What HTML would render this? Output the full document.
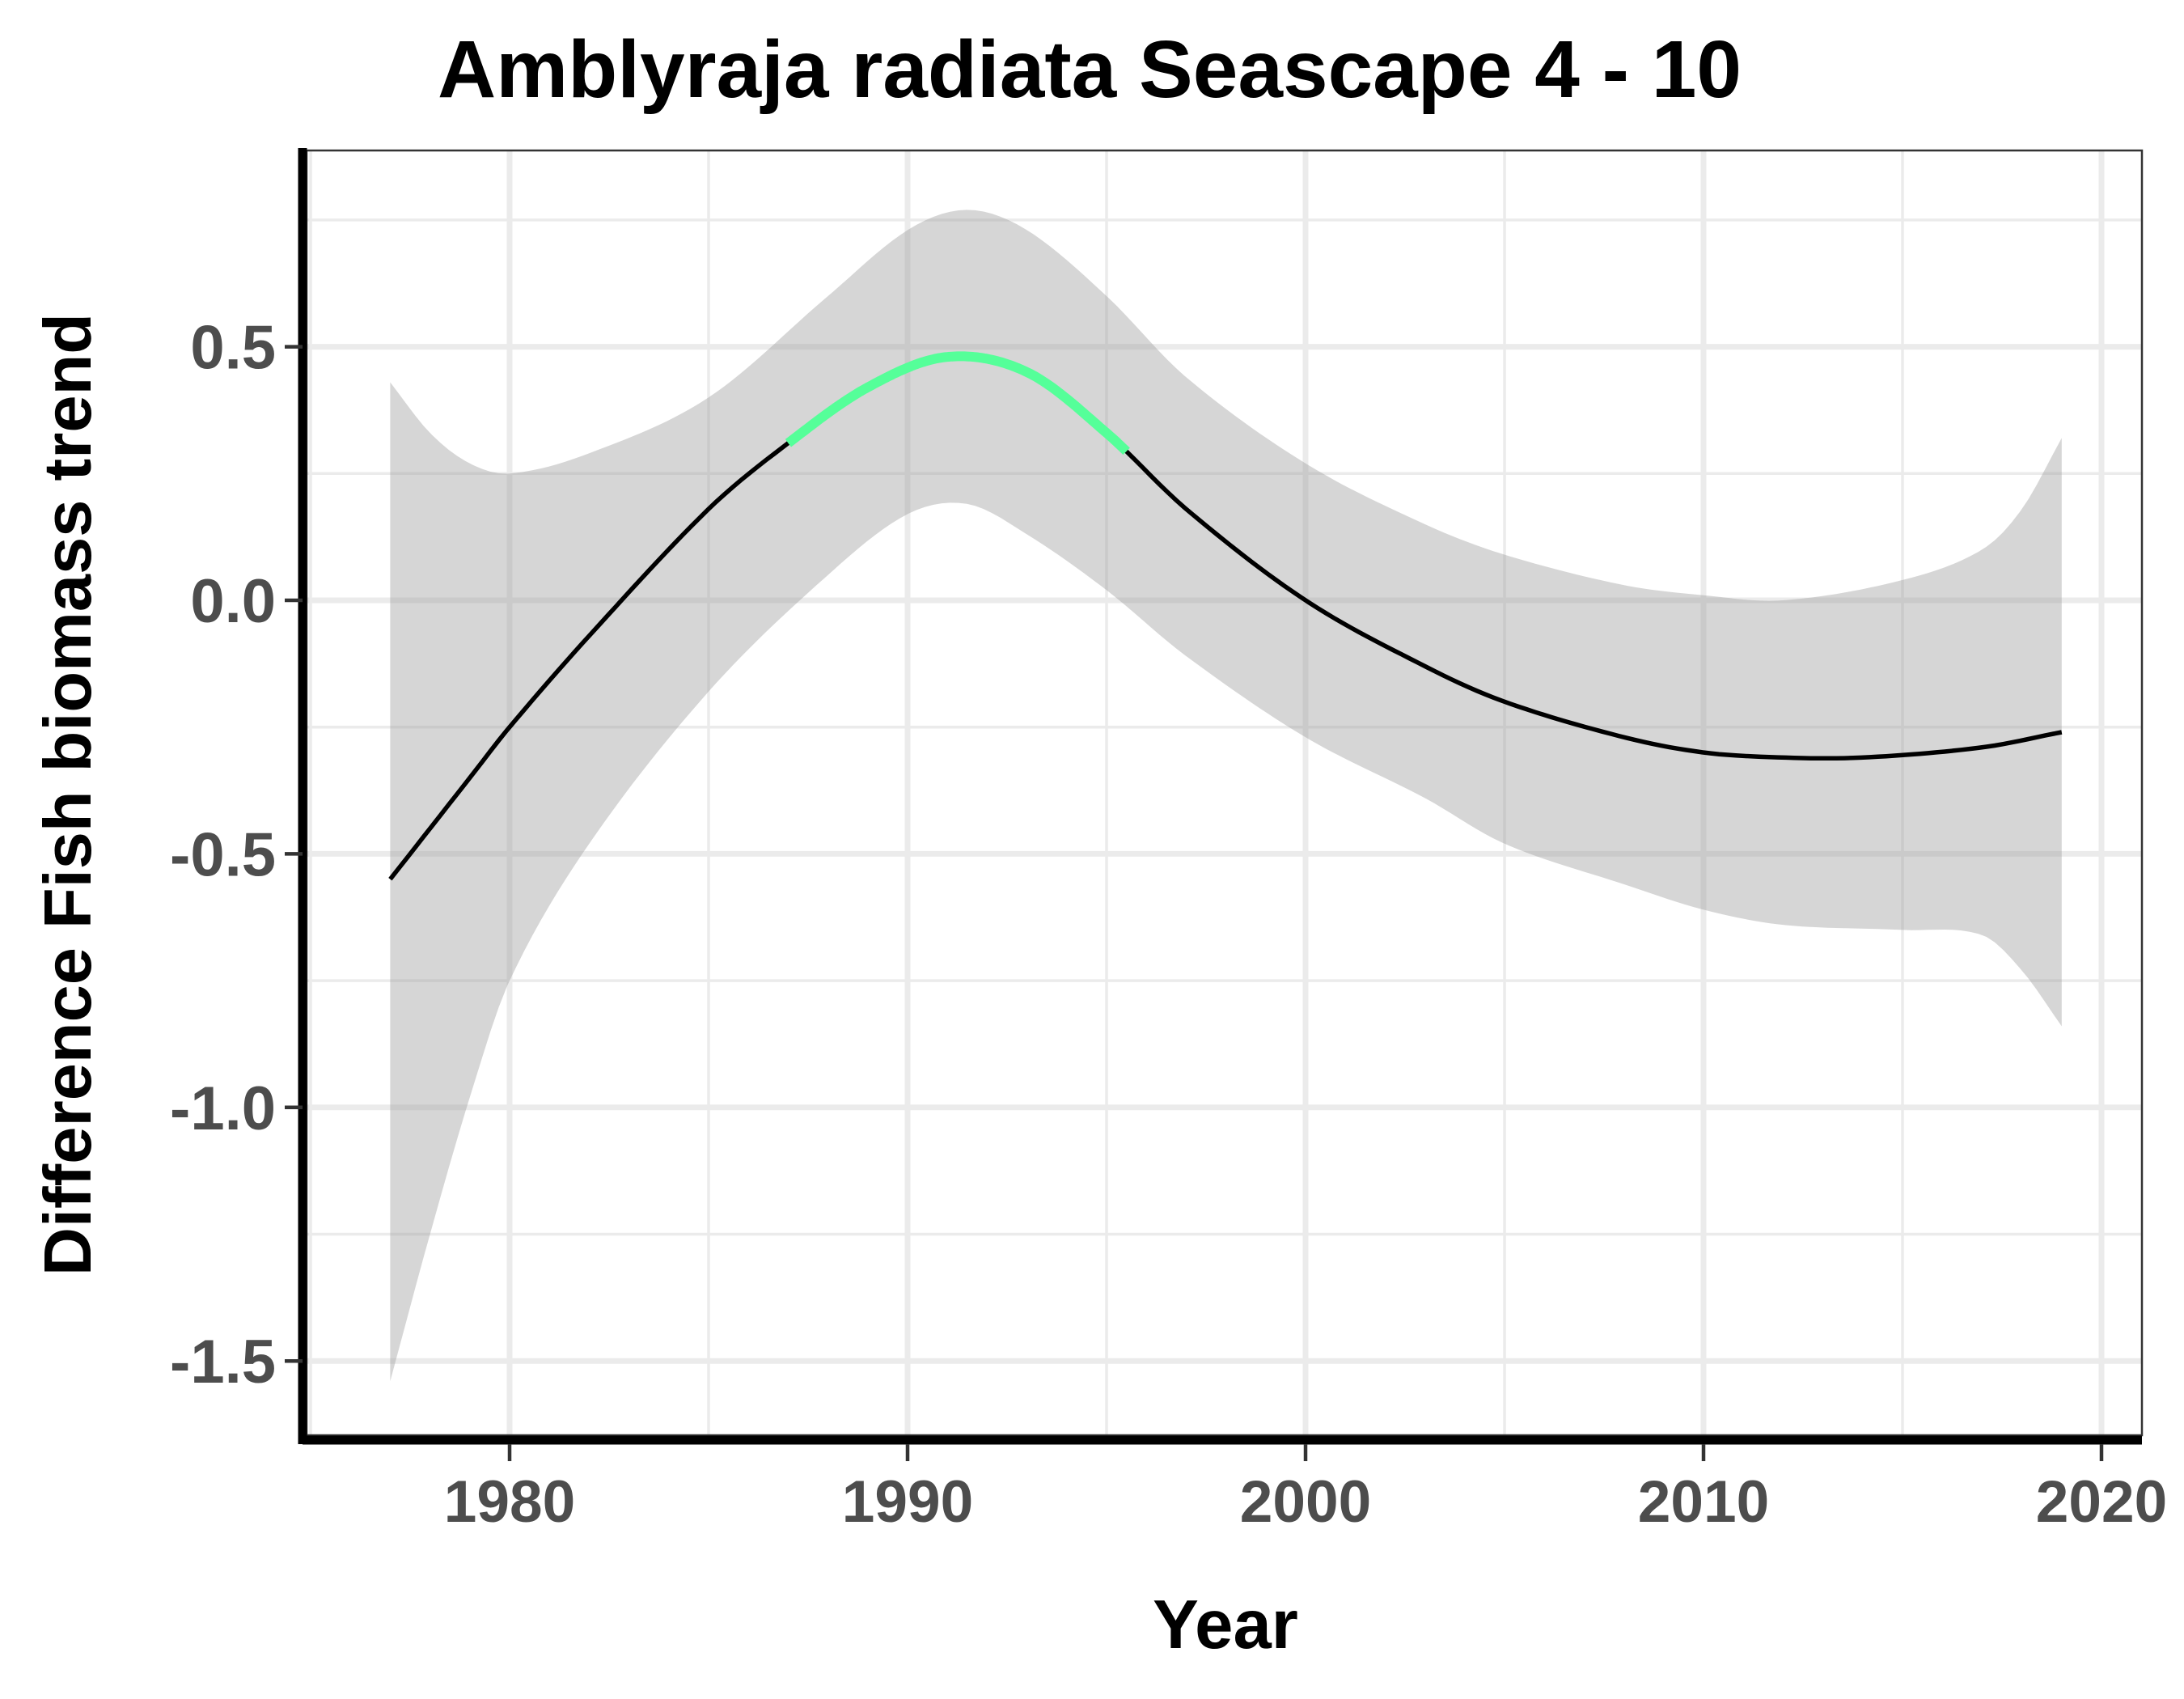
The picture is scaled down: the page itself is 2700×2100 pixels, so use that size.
<!DOCTYPE html>
<html><head><meta charset="utf-8"><style>
html,body{margin:0;padding:0;background:#fff;}
svg{display:block;font-family:"Liberation Sans",sans-serif;}
</style></head><body>
<svg id="chart" width="2700" height="2100" viewBox="0 0 2700 2100">
<g id="grid"></g>
<g id="marks"></g>
<g id="axes"></g>
<text x="1347" y="120" text-anchor="middle" font-size="100" font-weight="bold" fill="#000">Amblyraja radiata Seascape 4 - 10</text>
<text x="1515" y="2037" text-anchor="middle" font-size="85" font-weight="bold" fill="#000">Year</text>
<text transform="translate(112,982) rotate(-90)" text-anchor="middle" font-size="83" font-weight="bold" fill="#000">Difference Fish biomass trend</text>
</svg>
<script>
const years=[1977,1979,1980,1982,1985,1987,1989,1991,1993,1995,1997,2000,2003,2005,2008,2010,2012,2014,2017,2019];
const trend=[-0.55,-0.35,-0.25,-0.07,0.18,0.31,0.42,0.48,0.45,0.33,0.18,0.0,-0.13,-0.2,-0.27,-0.3,-0.31,-0.31,-0.29,-0.26];
const bandYears=[1977,1978,1979,1980,1982,1985,1988,1990,1991.5,1993,1995,1997,2000,2003,2005,2008,2010,2012,2015,2017,2018,2019];
const upper=[0.43,0.33,0.27,0.25,0.29,0.40,0.6,0.73,0.77,0.73,0.6,0.44,0.27,0.15,0.09,0.03,0.01,0.0,0.04,0.1,0.18,0.32];
const lower=[-1.54,-1.25,-0.98,-0.75,-0.48,-0.18,0.05,0.17,0.19,0.13,0.02,-0.11,-0.27,-0.39,-0.48,-0.56,-0.61,-0.64,-0.65,-0.66,-0.73,-0.84];
const sigStart=1987, sigEnd=1995.5;
const xTicks=[1980,1990,2000,2010,2020];
const yTicks=[0.5,0.0,-0.5,-1.0,-1.5];
const yTickLabels=["0.5","0.0","-0.5","-1.0","-1.5"];
const L=379,R=2648,T=186,B=1774;
const X=v=>630+(v-1980)*49.2;
const Y=v=>742-v*626.8;
const NS="http://www.w3.org/2000/svg";
function mk(tag,attrs,parent){const e=document.createElementNS(NS,tag);for(const k in attrs)e.setAttribute(k,attrs[k]);parent.appendChild(e);return e;}
function interp(xs,ys,x){let i=0;while(i<xs.length-2&&x>xs[i+1])i++;
 const x0=xs[Math.max(i-1,0)],x1=xs[i],x2=xs[i+1],x3=xs[Math.min(i+2,xs.length-1)];
 const y0=ys[Math.max(i-1,0)],y1=ys[i],y2=ys[i+1],y3=ys[Math.min(i+2,ys.length-1)];
 const m1=(y2-y0)/((x2-x0)||1),m2=(y3-y1)/((x3-x1)||1);
 const h=x2-x1,t=(x-x1)/h,t2=t*t,t3=t2*t;
 return (2*t3-3*t2+1)*y1+(t3-2*t2+t)*h*m1+(-2*t3+3*t2)*y2+(t3-t2)*h*m2;}
function samples(xs,ys,a,b){const p=[];const n=200;for(let k=0;k<=n;k++){const x=a+(b-a)*k/n;p.push([X(x),Y(interp(xs,ys,x))]);}return p;}
const grid=document.getElementById('grid'),marks=document.getElementById('marks'),axes=document.getElementById('axes');
for(let v=-1.25;v<=0.75;v+=0.5){const g=mk('line',{x1:L,x2:R,y1:Y(v),y2:Y(v),stroke:'#ebebeb','stroke-width':3.5},grid);}
for(let v=1975;v<=2015;v+=10){const g=mk('line',{x1:X(v),x2:X(v),y1:T,y2:B,stroke:'#ebebeb','stroke-width':3.5},grid);}
yTicks.forEach(v=>{const g=mk('line',{x1:L,x2:R,y1:Y(v),y2:Y(v),stroke:'#ebebeb','stroke-width':7},grid);});
xTicks.forEach(v=>{const g=mk('line',{x1:X(v),x2:X(v),y1:T,y2:B,stroke:'#ebebeb','stroke-width':7},grid);});
const a0=bandYears[0],a1=bandYears[bandYears.length-1];
const up=samples(bandYears,upper,a0,a1),lo=samples(bandYears,lower,a0,a1).reverse();
const band=mk('path',{d:'M'+up.concat(lo).map(p=>p[0].toFixed(1)+','+p[1].toFixed(1)).join('L')+'Z',fill:'#999','fill-opacity':0.4},marks);

const tl=samples(years,trend,years[0],years[years.length-1]);
const line=mk('path',{d:'M'+tl.map(p=>p[0].toFixed(1)+','+p[1].toFixed(1)).join('L'),fill:'none',stroke:'#000','stroke-width':5.5},marks);

const sg=samples(years,trend,sigStart,sigEnd);
const sig=mk('path',{d:'M'+sg.map(p=>p[0].toFixed(1)+','+p[1].toFixed(1)).join('L'),fill:'none',stroke:'#55ff99','stroke-width':12},marks);

const f=mk('rect',{x:L,y:T,width:R-L,height:B-T,fill:'none',stroke:'#333','stroke-width':2.5},axes);

const la=mk('line',{x1:L-5,x2:L-5,y1:T-3,y2:B+11,stroke:'#000','stroke-width':11},axes);

const ba=mk('line',{x1:L-5,x2:R,y1:B+6,y2:B+6,stroke:'#000','stroke-width':11},axes);

yTicks.forEach((v,i)=>{
 const t=mk('line',{x1:352,x2:374,y1:Y(v),y2:Y(v),stroke:'#333','stroke-width':4.5},axes);
 
 const tx=mk('text',{x:341,y:Y(v)+27,'text-anchor':'end','font-size':76,'font-weight':'bold',fill:'#4d4d4d'},axes);
 tx.textContent=yTickLabels[i];
 });
xTicks.forEach(v=>{
 const t=mk('line',{x1:X(v),x2:X(v),y1:B+11,y2:B+32,stroke:'#333','stroke-width':4.5},axes);
 
 const tx=mk('text',{x:X(v),y:1881,'text-anchor':'middle','font-size':73,'font-weight':'bold',fill:'#4d4d4d'},axes);
 tx.textContent=String(v);
 });
</script>
</body></html>
